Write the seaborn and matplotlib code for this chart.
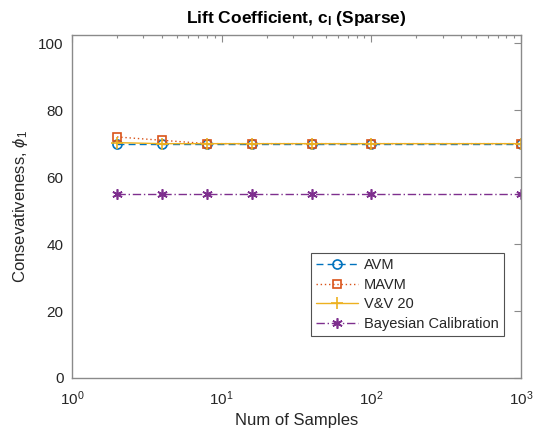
import numpy as np
import pandas as pd
import matplotlib
matplotlib.use("Agg")
import matplotlib.pyplot as plt
import seaborn as sns

# Number of samples and the conservativeness of each method
samples = [2, 4, 8, 16, 40, 100, 1000]
avm = [70, 70, 70, 70, 70, 70, 70]
mavm = [72, 71, 70, 70, 70, 70, 70]
vv20 = [70.3, 70, 70, 70, 70, 70, 70]
bayes = [55, 55, 55, 55, 55, 55, 55]

sns.set_theme(style="white")
plt.rcParams["font.family"] = ["Liberation Sans", "DejaVu Sans"]
plt.rcParams["mathtext.fontset"] = "custom"
plt.rcParams["mathtext.rm"] = "Liberation Sans"
plt.rcParams["mathtext.it"] = "Liberation Sans:italic"
plt.rcParams["mathtext.bf"] = "Liberation Sans:bold"

fig = plt.figure(figsize=(5.35, 4.4), dpi=100)
ax = fig.add_axes([0.1346, 0.141, 0.839, 0.779])

series = [
    ("AVM", avm, "#0072BD", (0, (5, 3)), "o", 6.5),
    ("MAVM", mavm, "#D95319", (0, (1, 2)), "s", 6),
    ("V&V 20", vv20, "#EDB120", "-", "+", 8),
    ("Bayesian Calibration", bayes, "#7E2F8E", (0, (6, 2, 1, 2)), (6, 2, 0), 7.5),
]
for name, vals, col, ls, mk, ms in series:
    df = pd.DataFrame({"n": samples, "v": vals})
    sns.lineplot(data=df, x="n", y="v", ax=ax, color=col, linestyle=ls,
                 marker=mk, markersize=ms, markerfacecolor="none",
                 markeredgecolor=col, markeredgewidth=1.2, linewidth=1.0,
                 label=name)

ax.set_xscale("log")
ax.set_xlim(1, 1000)
ax.set_ylim(0, 102.4)
ax.set_yticks([0, 20, 40, 60, 80, 100])
ax.set_xticks([1, 10, 100, 1000])
ax.xaxis.set_minor_locator(matplotlib.ticker.LogLocator(base=10, subs=np.arange(2, 10), numticks=20))

axcol = "#8a8a8a"
for sp in ax.spines.values():
    sp.set_color(axcol)
    sp.set_linewidth(1.0)
ax.tick_params(axis="both", which="both", direction="in", top=True, right=True,
               colors=axcol, labelcolor="#262626", labelsize=11)
ax.tick_params(axis="both", which="major", length=5, width=0.8)
ax.tick_params(axis="x", which="minor", length=2.5, width=0.8)
ax.tick_params(axis="x", which="major", pad=8)
ax.tick_params(axis="y", which="major", pad=6)

ax.set_xlabel("Num of Samples", fontsize=12, color="#262626", labelpad=4)
ax.set_ylabel(r"Consevativeness, $\phi_1$", fontsize=12, color="#262626", labelpad=6)
ax.set_title(r"Lift Coefficient, c$_\mathbf{l}$ (Sparse)", fontsize=12.5,
             fontweight="bold", color="black", pad=9)

leg = ax.legend(loc="lower right", bbox_to_anchor=(0.962, 0.122), fontsize=10.5,
                frameon=True, fancybox=False, handlelength=2.9, borderpad=0.35,
                labelspacing=0.38, handletextpad=0.4, borderaxespad=0)
leg.get_frame().set_edgecolor("#262626")
leg.get_frame().set_linewidth(0.8)

fig.savefig("out.png", dpi=100)
